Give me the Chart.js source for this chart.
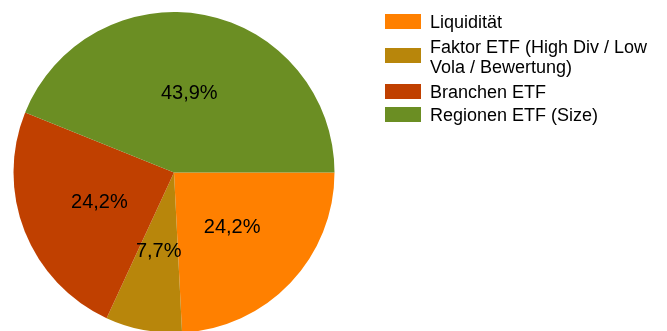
<!DOCTYPE html>
<html>
<head>
<meta charset="utf-8">
<script src="https://cdn.jsdelivr.net/npm/chart.js@4/dist/chart.umd.min.js"></script>
<style>
  html, body { margin: 0; padding: 0; background: #fff; overflow: hidden; }
  #wrap { position: relative; width: 667px; height: 336px; }
</style>
</head>
<body>
<div id="wrap"><canvas id="c"></canvas></div>
<script>
// Portfolio allocation
const categories = ['Liquidität', 'Faktor ETF (High Div / Low Vola / Bewertung)', 'Branchen ETF', 'Regionen ETF (Size)'];
const legendLines = [['Liquidität'], ['Faktor ETF (High Div / Low', 'Vola / Bewertung)'], ['Branchen ETF'], ['Regionen ETF (Size)']];
const shares = [24.2, 7.7, 24.2, 43.9];
const sliceColors = ['#FF8000', '#B8860B', '#C04000', '#6B8E23'];

const FONT = '"Liberation Sans", Arial, Helvetica, sans-serif';

// Percentage labels at the middle of each slice
const sliceLabels = {
  id: 'sliceLabels',
  afterDatasetsDraw(chart) {
    const ctx = chart.ctx;
    const meta = chart.getDatasetMeta(0);
    ctx.save();
    ctx.font = '20px ' + FONT;
    ctx.fillStyle = '#000';
    ctx.textAlign = 'center';
    ctx.textBaseline = 'middle';
    meta.data.forEach((arc, i) => {
      const p = arc.tooltipPosition();
      const txt = shares[i].toFixed(1).replace('.', ',') + '%';
      ctx.fillText(txt, p.x, p.y);
    });
    ctx.restore();
  }
};

// Legend on the right, with wrapped second entry
const sideLegend = {
  id: 'sideLegend',
  afterDraw(chart) {
    const ctx = chart.ctx;
    const boxX = 385, boxW = 36, boxH = 15, textX = 430, lineH = 20;
    const rowBaselines = [28, 53, 98, 121];
    ctx.save();
    ctx.font = '18px ' + FONT;
    ctx.textAlign = 'left';
    ctx.textBaseline = 'alphabetic';
    legendLines.forEach((lines, i) => {
      const base = rowBaselines[i];
      const lastBase = base + (lines.length - 1) * lineH;
      const boxBottom = (base + lastBase) / 2 + (lines.length > 1 ? 0 : 1);
      ctx.fillStyle = sliceColors[i];
      ctx.fillRect(boxX, boxBottom - boxH, boxW, boxH);
      ctx.fillStyle = '#000';
      lines.forEach((ln, k) => ctx.fillText(ln, textX, base + k * lineH));
    });
    ctx.restore();
  }
};

new Chart(document.getElementById('c'), {
  type: 'pie',
  data: {
    labels: categories,
    datasets: [{
      data: shares,
      backgroundColor: sliceColors,
      borderWidth: 0
    }]
  },
  options: {
    responsive: true,
    maintainAspectRatio: false,
    animation: false,
    rotation: 90,
    layout: { padding: { left: 13, right: 332, top: 12, bottom: 3 } },
    plugins: {
      legend: { display: false },
      tooltip: { enabled: false }
    }
  },
  plugins: [sliceLabels, sideLegend]
});
</script>
</body>
</html>
